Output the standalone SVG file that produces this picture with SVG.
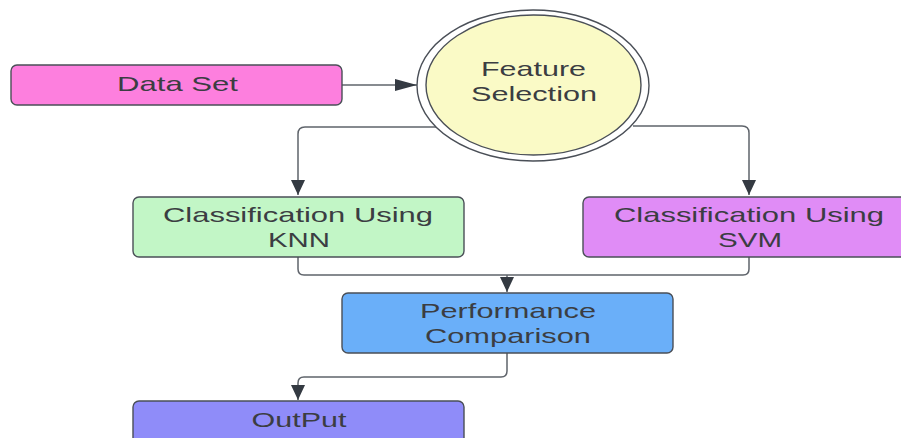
<svg xmlns="http://www.w3.org/2000/svg" width="901" height="438" viewBox="0 0 901 438">
<style>
.box{stroke:#4a4f57;stroke-width:1.4}
.t{font-family:"Liberation Sans",Arial,sans-serif;font-size:21px;fill:#3b3d42;text-anchor:middle}
.c{fill:none;stroke:#5f646b;stroke-width:1.5}
</style>
<defs>
<marker id="av" markerUnits="userSpaceOnUse" markerWidth="14" markerHeight="15" refX="7" refY="15" orient="0" viewBox="0 0 14 15">
<path d="M0,0 L14,0 L7,15 Z" fill="#343a42"/>
</marker>
<marker id="ah" markerUnits="userSpaceOnUse" markerWidth="22" markerHeight="12" refX="22" refY="6" orient="0" viewBox="0 0 22 12">
<path d="M0,0 L22,6 L0,12 Z" fill="#343a42"/>
</marker>
</defs>
<rect width="901" height="438" fill="#ffffff"/>
<g id="connectors">
<path class="c" d="M342,85 L417,85" marker-end="url(#ah)"/>
<path class="c" d="M436,127 L305,127 Q298,127 298,134 L298,195" marker-end="url(#av)"/>
<path class="c" d="M633,126 L742,126 Q749,126 749,133 L749,195" marker-end="url(#av)"/>
<path class="c" d="M298,257 L298,269 Q298,275 304,275 L743,275 Q749,275 749,269 L749,257"/>
<path class="c" d="M507,275 L507,292" marker-end="url(#av)"/>
<path class="c" d="M507,353 L507,371 Q507,377 501,377 L304,377 Q298,377 298,383 L298,400" marker-end="url(#av)"/>
</g>
<g id="dataset">
<rect class="box" x="11" y="65" width="331" height="40" rx="6" fill="#fd7fde"/>
<text class="t" x="177.5" y="91" textLength="121" lengthAdjust="spacingAndGlyphs">Data Set</text>
</g>
<g id="feature">
<ellipse cx="533" cy="85.5" rx="116" ry="75.5" fill="#ffffff" stroke="#4a4f57" stroke-width="1.4"/>
<ellipse cx="533.5" cy="85" rx="107.5" ry="70" fill="#fafac6" stroke="#4a4f57" stroke-width="1.4"/>
<text class="t" x="533.5" y="76" textLength="105" lengthAdjust="spacingAndGlyphs">Feature</text>
<text class="t" x="534" y="101" textLength="126" lengthAdjust="spacingAndGlyphs">Selection</text>
</g>
<g id="knn">
<rect class="box" x="133" y="197" width="331" height="60" rx="6" fill="#c2f6c6"/>
<text class="t" x="298" y="222" textLength="270" lengthAdjust="spacingAndGlyphs">Classification Using</text>
<text class="t" x="299" y="247" textLength="62" lengthAdjust="spacingAndGlyphs">KNN</text>
</g>
<g id="svm">
<rect class="box" x="583" y="197" width="330" height="60" rx="6" fill="#e08cf6"/>
<text class="t" x="749" y="222" textLength="270" lengthAdjust="spacingAndGlyphs">Classification Using</text>
<text class="t" x="750" y="247" textLength="64" lengthAdjust="spacingAndGlyphs">SVM</text>
</g>
<g id="performance">
<rect class="box" x="342" y="293" width="331" height="60" rx="6" fill="#6aaff9"/>
<text class="t" x="508" y="318" textLength="176" lengthAdjust="spacingAndGlyphs">Performance</text>
<text class="t" x="508" y="343" textLength="166" lengthAdjust="spacingAndGlyphs">Comparison</text>
</g>
<g id="output">
<rect class="box" x="133" y="401" width="331" height="50" rx="6" fill="#8f8cf9"/>
<text class="t" x="299" y="427" textLength="95" lengthAdjust="spacingAndGlyphs">OutPut</text>
</g>
</svg>
